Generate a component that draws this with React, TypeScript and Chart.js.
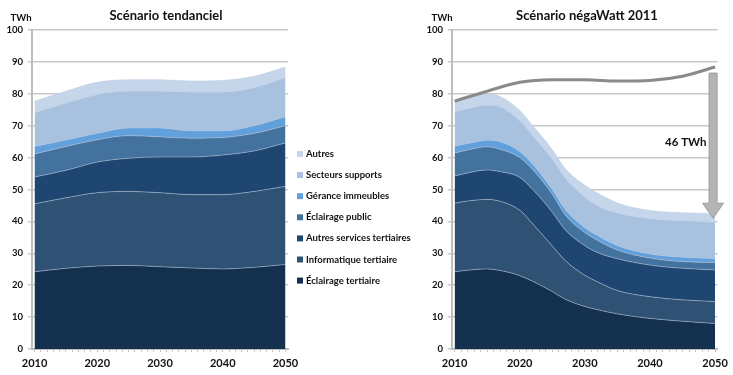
import React, { useEffect, useRef } from 'react';
import { Chart, registerables } from 'chart.js';

Chart.register(...registerables);

const FONT = "Lato, 'Open Sans', sans-serif";

// ---------- DATA ----------
const seriesLabels = [
  'Éclairage tertiaire',
  'Informatique tertiaire',
  'Autres services tertiaires',
  'Éclairage public',
  'Gérance immeubles',
  'Secteurs supports',
  'Autres',
];
const seriesColors = ['#14304f', '#2f5174', '#1e4670', '#44729f', '#62a0dc', '#a7c1df', '#c5d6eb'];

const yearsTendanciel = [2010, 2015, 2020, 2025, 2030, 2035, 2040, 2045, 2050];
const tendEclairageTertiaire = [24.2, 25.3, 26.0, 26.2, 25.8, 25.4, 25.1, 25.6, 26.5];
const tendInformatique = [21.3, 22.1, 23.0, 23.2, 23.2, 23.0, 23.3, 23.8, 24.5];
const tendAutresServices = [8.4, 8.6, 9.6, 10.4, 11.2, 11.8, 12.4, 12.7, 13.6];
const tendEclairagePublic = [7.2, 7.5, 7.0, 7.1, 6.3, 5.9, 5.5, 5.5, 5.4];
const tendGerance = [2.4, 2.0, 2.0, 2.4, 2.8, 2.3, 2.1, 2.4, 2.8];
const tendSecteursSupports = [10.5, 11.5, 12.1, 11.5, 11.5, 12.1, 12.1, 11.9, 12.2];
const tendAutres = [3.7, 3.8, 3.9, 3.6, 3.6, 3.5, 3.7, 3.6, 3.4];

const yearsNegawatt = [2010, 2012, 2015, 2017, 2020, 2022, 2025, 2027, 2030, 2032, 2035, 2040, 2045, 2050];
const nwEclairageTertiaire = [24.2, 24.7, 25.1, 24.6, 23.0, 21.2, 18.0, 15.6, 13.3, 12.3, 11.0, 9.6, 8.7, 8.0];
const nwInformatique = [21.5, 21.7, 21.8, 21.7, 20.5, 18.0, 14.3, 12.1, 9.8, 8.7, 7.3, 6.8, 6.7, 6.9];
const nwAutresServices = [8.5, 8.8, 9.2, 9.3, 10.3, 10.8, 10.6, 9.6, 9.3, 9.2, 10.0, 9.9, 9.9, 9.9];
const nwEclairagePublic = [7.2, 7.2, 7.3, 7.0, 6.2, 6.2, 5.6, 4.7, 4.1, 3.8, 2.7, 2.2, 2.1, 2.3];
const nwGerance = [2.2, 2.0, 2.0, 2.4, 1.9, 1.7, 1.5, 1.7, 1.5, 1.5, 1.4, 1.3, 1.4, 1.3];
const nwSecteursSupports = [10.7, 10.9, 11.0, 10.9, 9.6, 8.9, 9.5, 9.8, 9.6, 9.3, 10.2, 11.0, 11.3, 11.2];
const nwAutres = [3.2, 3.3, 3.5, 3.2, 3.3, 3.2, 3.0, 3.0, 3.7, 4.0, 3.2, 2.6, 2.6, 2.9];

const axisYears = Array.from({ length: 41 }, (_, i) => 2010 + i);
const yTicks = [0, 10, 20, 30, 40, 50, 60, 70, 80, 90, 100];

const titleTendanciel = 'Scénario tendanciel';
const titleNegawatt = 'Scénario négaWatt 2011';
const unitLabel = 'TWh';
const savingLabel = '46 TWh';
const arrowYear = 2050;
const arrowFrom = 86.5;
const arrowTo = 41.0;

// ---------- HELPERS ----------
function makeAreaDatasets(years: number[], series: number[][]) {
  return series.map((vals, i) => ({
    type: 'line' as const,
    label: seriesLabels[i],
    data: vals.map((v, j) => ({ x: years[j], y: v })),
    backgroundColor: seriesColors[i],
    borderColor: 'rgba(185,200,222,0.75)',
    borderWidth: 0.7,
    fill: i === 0 ? 'origin' : '-1',
    pointRadius: 0,
    cubicInterpolationMode: 'monotone' as const,
    stack: 'areas',
  }));
}

function scalesConfig(yWidth: number) {
  return {
    x: {
      type: 'linear' as const,
      min: 2009.6,
      max: 2050.4,
      afterBuildTicks: (scale: any) => {
        scale.ticks = axisYears.map((v) => ({ value: v }));
      },
      afterFit: (scale: any) => {
        scale.height = 26;
      },
      ticks: {
        autoSkip: false,
        maxRotation: 0,
        padding: 5,
        color: '#111',
        font: { family: FONT, size: 11, weight: 'bold' as const },
        callback: (v: any) => (Number(v) % 10 === 0 ? String(v) : ''),
      },
      grid: { drawOnChartArea: false, drawTicks: true, tickLength: 3, color: '#c4c4c4', lineWidth: 1 },
      border: { color: '#bdbdbd', width: 2 },
    },
    y: {
      stacked: true,
      min: 0,
      max: 100,
      afterBuildTicks: (scale: any) => {
        scale.ticks = yTicks.map((v) => ({ value: v }));
      },
      afterFit: (scale: any) => {
        scale.width = yWidth;
      },
      ticks: {
        padding: 5,
        color: '#111',
        font: { family: FONT, size: 9.5, weight: 'bold' as const },
      },
      grid: { color: '#c9c9c9', lineWidth: 1.5, tickLength: 4 },
      border: { color: '#bdbdbd', width: 2 },
    },
  };
}

const decorPlugin = {
  id: 'decor',
  afterDraw(chart: any, _args: any, opts: any) {
    const { ctx } = chart;
    ctx.save();
    ctx.fillStyle = '#111';
    ctx.textAlign = 'center';
    ctx.textBaseline = 'middle';
    ctx.font = `bold 13px ${FONT}`;
    ctx.fillText(opts.title, opts.titleX, 16);
    ctx.font = `bold 9.5px ${FONT}`;
    ctx.fillText(unitLabel, opts.unitX, 18);
    ctx.restore();
  },
};

const legendPlugin = {
  id: 'sideLegend',
  afterDraw(chart: any, _args: any, opts: any) {
    if (!opts || !opts.show) return;
    const { ctx } = chart;
    ctx.save();
    ctx.font = `bold 9.5px ${FONT}`;
    ctx.textBaseline = 'middle';
    ctx.textAlign = 'left';
    const n = seriesLabels.length;
    for (let k = 0; k < n; k++) {
      const i = n - 1 - k;
      const y = opts.top + k * opts.step;
      ctx.fillStyle = seriesColors[i];
      ctx.fillRect(opts.x, y - 3, 6, 6);
      ctx.fillStyle = '#111';
      ctx.fillText(seriesLabels[i], opts.x + 9, y);
    }
    ctx.restore();
  },
};

const arrowPlugin = {
  id: 'savingArrow',
  afterDatasetsDraw(chart: any, _args: any, opts: any) {
    if (!opts || !opts.show) return;
    const { ctx, scales } = chart;
    const x = scales.x.getPixelForValue(arrowYear) - 2;
    const yTop = scales.y.getPixelForValue(arrowFrom);
    const yTip = scales.y.getPixelForValue(arrowTo);
    const headH = 15;
    const headW = 10.5;
    const shaftW = 4;
    ctx.save();
    ctx.beginPath();
    ctx.moveTo(x - shaftW, yTop);
    ctx.lineTo(x + shaftW, yTop);
    ctx.lineTo(x + shaftW, yTip - headH);
    ctx.lineTo(x + headW, yTip - headH);
    ctx.lineTo(x, yTip);
    ctx.lineTo(x - headW, yTip - headH);
    ctx.lineTo(x - shaftW, yTip - headH);
    ctx.closePath();
    ctx.fillStyle = '#b4b4b4';
    ctx.fill();
    ctx.strokeStyle = '#9d9d9d';
    ctx.lineWidth = 1;
    ctx.stroke();
    ctx.fillStyle = '#111';
    ctx.font = `bold 11.5px ${FONT}`;
    ctx.textAlign = 'center';
    ctx.textBaseline = 'middle';
    ctx.fillText(savingLabel, scales.x.getPixelForValue(2045.5), scales.y.getPixelForValue(64.8));
    ctx.restore();
  },
};

export default function App() {
  const leftRef = useRef<HTMLCanvasElement>(null);
  const rightRef = useRef<HTMLCanvasElement>(null);

  useEffect(() => {
    document.body.style.margin = '0';
    const tendSeries = [
      tendEclairageTertiaire,
      tendInformatique,
      tendAutresServices,
      tendEclairagePublic,
      tendGerance,
      tendSecteursSupports,
      tendAutres,
    ];
    const nwSeries = [
      nwEclairageTertiaire,
      nwInformatique,
      nwAutresServices,
      nwEclairagePublic,
      nwGerance,
      nwSecteursSupports,
      nwAutres,
    ];
    const tendTotal = yearsTendanciel.map((_, j) => tendSeries.reduce((s, arr) => s + arr[j], 0));

    const left = new Chart(leftRef.current!, {
      type: 'line',
      data: { datasets: makeAreaDatasets(yearsTendanciel, tendSeries) as any },
      options: {
        animation: false,
        responsive: false,
        layout: { padding: { left: 0, right: 132, top: 30, bottom: 0 } },
        scales: scalesConfig(32) as any,
        plugins: {
          legend: { display: false },
          tooltip: { enabled: false },
          decor: { title: titleTendanciel, titleX: 166, unitX: 21 },
          sideLegend: { show: true, x: 297, top: 154, step: 21.1 },
        } as any,
      },
      plugins: [decorPlugin, legendPlugin],
    });

    const right = new Chart(rightRef.current!, {
      type: 'line',
      data: {
        datasets: [
          {
            type: 'line',
            label: 'Tendanciel',
            data: tendTotal.map((v, j) => ({ x: yearsTendanciel[j], y: v })),
            borderColor: '#8a8a8a',
            borderWidth: 3,
            fill: false,
            pointRadius: 0,
            cubicInterpolationMode: 'monotone',
            stack: 'reference',
            order: -1,
          },
          ...(makeAreaDatasets(yearsNegawatt, nwSeries) as any),
        ],
      },
      options: {
        animation: false,
        responsive: false,
        layout: { padding: { left: 0, right: 15, top: 30, bottom: 0 } },
        scales: scalesConfig(32) as any,
        plugins: {
          legend: { display: false },
          tooltip: { enabled: false },
          decor: { title: titleNegawatt, titleX: 167, unitX: 22 },
          savingArrow: { show: true },
        } as any,
      },
      plugins: [decorPlugin, arrowPlugin],
    });

    return () => {
      left.destroy();
      right.destroy();
    };
  }, []);

  return (
    <div style={{ position: 'relative', width: 733, height: 375, background: '#fff' }}>
      <canvas ref={leftRef} width={420} height={375} style={{ position: 'absolute', left: 0, top: 0 }} />
      <canvas ref={rightRef} width={313} height={375} style={{ position: 'absolute', left: 420, top: 0 }} />
    </div>
  );
}
